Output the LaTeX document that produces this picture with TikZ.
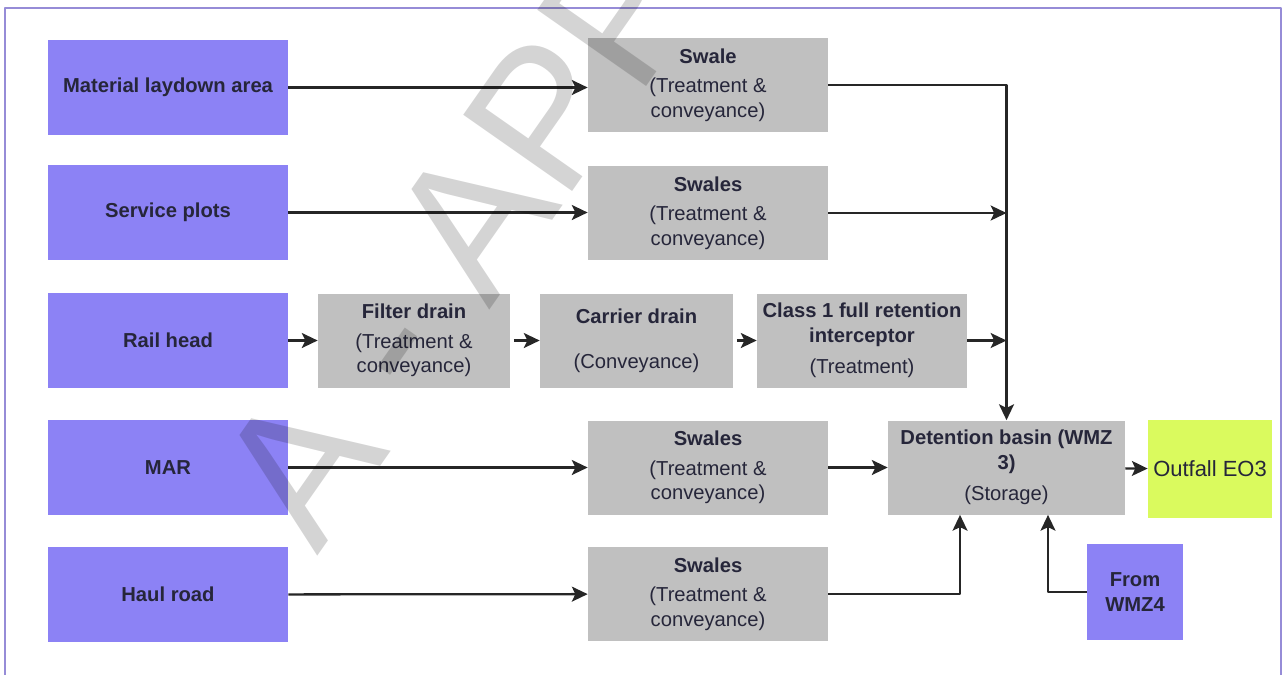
\documentclass[tikz,border=0pt]{standalone}
\usepackage{fontspec}
\setmainfont{Liberation Sans}
\usepackage{xcolor}
\usetikzlibrary{calc, positioning, arrows.meta}

\definecolor{srcpurple}{RGB}{140,130,245}
\definecolor{procgray}{RGB}{192,192,192}
\definecolor{outgreen}{RGB}{218,250,94}
\definecolor{framepurple}{RGB}{150,140,215}
\definecolor{txtdark}{RGB}{38,38,58}

\begin{document}
\begin{tikzpicture}[
        x=0.02cm,
        y=-0.02cm,
        line join=round,
        srcbox/.style={fill=srcpurple, text=txtdark, align=center, inner sep=0pt,
            minimum width=4.8cm, minimum height=1.9cm,
            font=\fontsize{11.5}{13.8}\selectfont\bfseries},
        procbox/.style={fill=procgray, text=txtdark, align=center, inner sep=0pt,
            minimum width=4.8cm, minimum height=1.88cm,
            font=\fontsize{11.5}{13.8}\selectfont},
        flow/.style={draw=black!85, line width=1.3pt,
            -{Stealth[length=9pt, width=8.5pt, inset=2pt]}}
    ]

        \useasboundingbox (0,0) rectangle (1287,674);

        % =================================
        % KHUNG
        % =================================
        \draw[framepurple, line width=0.7pt]
            (5,8) rectangle (1281,700);


        % =================================
        % NGUON NUOC
        % =================================
        \node[srcbox] (laydown) at (168,87.5) {Material laydown area};
        \node[srcbox] (plots)   at (168,212.5) {Service plots};
        \node[srcbox] (rail)    at (168,340.5) {Rail head};
        \node[srcbox] (mar)     at (168,467.5) {MAR};
        \node[srcbox] (haul)    at (168,594.5) {Haul road};

        % WMZ4
        \node[srcbox, minimum width=1.92cm, minimum height=1.92cm]
            (wmz) at (1135,592) {From\\WMZ4};


        % =================================
        % XU LY
        % =================================
        \node[procbox] (swaleA) at (708,85)
            {\textbf{Swale}\\[3pt](Treatment \&\\conveyance)};
        \node[procbox] (swaleB) at (708,213)
            {\textbf{Swales}\\[3pt](Treatment \&\\conveyance)};
        \node[procbox] (swaleC) at (708,467.5)
            {\textbf{Swales}\\[3pt](Treatment \&\\conveyance)};
        \node[procbox] (swaleD) at (708,594)
            {\textbf{Swales}\\[3pt](Treatment \&\\conveyance)};

        % Rail head
        \node[procbox, minimum width=3.84cm] (filter) at (414,340.5)
            {\textbf{Filter drain}\\[3pt](Treatment \&\\conveyance)};
        \node[procbox, minimum width=3.86cm] (carrier) at (636.5,340.5)
            {\textbf{Carrier drain}\\[12pt](Conveyance)};
        \node[procbox, minimum width=4.2cm] (interc) at (862,340.5)
            {\textbf{Class 1 full retention}\\\textbf{interceptor}\\[4pt](Treatment)};

        % Detention basin
        \node[procbox, minimum width=4.74cm] (basin) at (1006.5,467.5)
            {\textbf{Detention basin (WMZ}\\\textbf{3)}\\[4pt](Storage)};

        % Outfall
        \node[fill=outgreen, text=txtdark, inner sep=0pt,
              minimum width=2.48cm, minimum height=1.96cm,
              font=\fontsize{12.5}{15}\selectfont]
            (outfall) at (1210,469) {Outfall EO3};


        % =================================
        % DUONG DAN
        % =================================
        \draw[flow] (laydown) -- (swaleA.west |- laydown);
        \draw[flow] (plots) -- (swaleB.west |- plots);
        \draw[flow] (mar) -- (swaleC);
        \draw[flow] (haul) -- (swaleD);

        \draw[flow] (rail) -- (filter);
        \draw[flow] ([xshift=2pt]filter.east) -- (carrier);
        \draw[flow] ([xshift=2pt]carrier.east) -- (interc);

        % ve basin
        \draw[flow] (swaleA.east) -| (basin.north);
        \draw[flow] (swaleB.east) -- (swaleB.east -| basin.north);
        \draw[flow] (interc.east) -- (interc.east -| basin.north);
        \draw[flow] (swaleC) -- (basin);
        \draw[flow] (swaleD.east) -| ([xshift=-0.93cm]basin.south);
        \draw[flow] (wmz.west) -| ([xshift=0.83cm]basin.south);

        \draw[flow] (basin) -- (outfall);


        % =================================
        % DAU MO
        % =================================
        \node[rotate=55, anchor=base west, text=black, text opacity=0.17,
              inner sep=0pt, font=\fontsize{110}{110}\selectfont]
            (stamp) at (317,557) {A - APPR};

    \end{tikzpicture}
\end{document}
